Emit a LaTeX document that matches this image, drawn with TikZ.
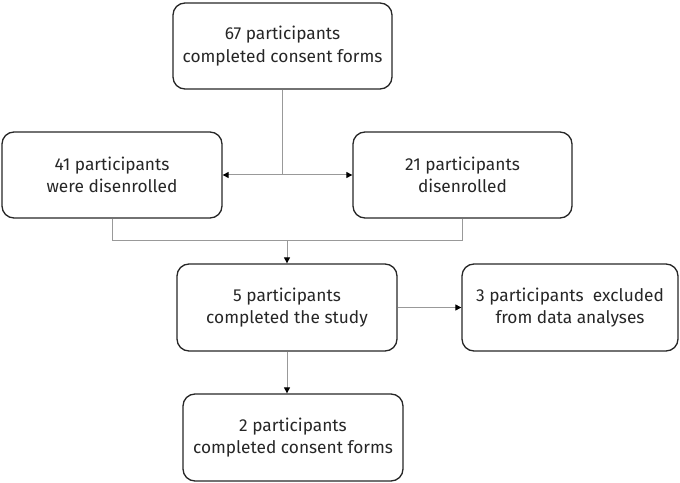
\documentclass[tikz,border=0pt]{standalone}
\usepackage{fontspec}
\setmainfont{Fira Sans}
\usetikzlibrary{arrows.meta}
\begin{document}
\begin{tikzpicture}[x=1bp,y=1bp,
  box/.style={draw=black!85, line width=1.3bp, rounded corners=12bp, align=center,
    font=\fontsize{17.3bp}{22.5bp}\selectfont, inner sep=0pt, text=black!85},
  conn/.style={draw=black!40, line width=1bp},
  tip/.style={-{Triangle[length=6bp,width=6bp,color=black]}}]
\useasboundingbox (0,0) rectangle (680,-483);
\node[box, minimum width=219bp, minimum height=86bp] (n67) at (282.5,-46) {67 participants\\completed consent forms};
\node[box, minimum width=220bp, minimum height=86bp] (n41) at (112,-175) {41 participants\\were disenrolled};
\node[box, minimum width=219bp, minimum height=86bp] (n21) at (462.5,-175) {21 participants\\disenrolled};
\node[box, minimum width=220bp, minimum height=87bp] (n5) at (287,-307.5) {5 participants\\completed the study};
\node[box, minimum width=216bp, minimum height=87bp] (n3) at (570,-307.5) {3 participants~ excluded\\from data analyses};
\node[box, minimum width=220bp, minimum height=87bp] (n2) at (293,-437.5) {2 participants\\completed consent forms};
\coordinate (split) at (n67.south |- n41.east);
\draw[conn] (n67.south) -- (split);
\draw[conn,tip] (split) -- (n41.east);
\draw[conn,tip] (split) -- (n21.west);
\draw[conn] (n41.south) -- ++(0,-22) coordinate (merge) -| (n21.south);
\draw[conn,tip] (n5.north |- merge) -- (n5.north);
\draw[conn,tip] (n5.east) -- (n3.west);
\draw[conn,tip] (n5.south) -- (n5.south |- n2.north);
\end{tikzpicture}
\end{document}
